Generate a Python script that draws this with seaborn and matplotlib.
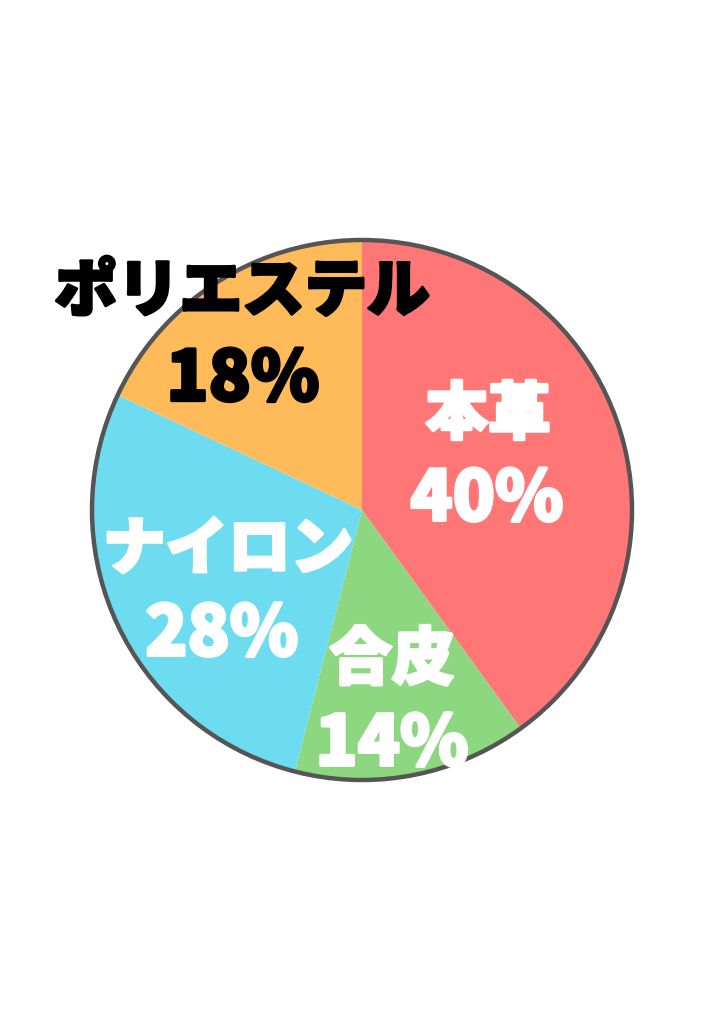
import matplotlib
matplotlib.use('Agg')
import matplotlib.pyplot as plt
import matplotlib.patheffects as pe
import seaborn as sns

# Material share data
labels = ['本革', '合皮', 'ナイロン', 'ポリエステル']
shares = [40, 14, 28, 18]
colors = ['#FF7676', '#8DD780', '#6DDCF0', '#FFBA5A']
text_colors = ['white', 'white', 'white', 'black']

sns.set_theme(style='white')
plt.rcParams['font.family'] = ['Noto Sans CJK JP', 'DejaVu Sans']

fig = plt.figure(figsize=(7.24, 10.24), dpi=100)
ax = fig.add_axes([0, 0, 1, 1])

wedges, _ = ax.pie(shares, colors=colors, startangle=90, counterclock=False,
                   radius=1, center=(0, 0), wedgeprops=dict(linewidth=0))
ax.add_patch(plt.Circle((0, 0), 1, fill=False, edgecolor='#555555', linewidth=3.2))

# label layout (name line, percent line) in pie units
name_pos = [(0.467, 0.352), (0.111, -0.556), (-0.496, -0.148), (-0.444, 0.807)]
pct_pos = [(0.463, 0.037), (0.111, -0.870), (-0.519, -0.463), (-0.441, 0.481)]

for lab, val, tc, npos, ppos in zip(labels, shares, text_colors, name_pos, pct_pos):
    stroke = [pe.withStroke(linewidth=2.2, foreground=tc)]
    ax.text(npos[0], npos[1], lab, color=tc, fontsize=45, fontweight='heavy',
            ha='center', va='center', path_effects=stroke)
    ax.text(ppos[0], ppos[1], f'{val}%', color=tc, fontsize=50, fontweight='heavy',
            ha='center', va='center', path_effects=stroke)

ax.set_xlim(-362 / 270, 362 / 270)
ax.set_ylim(-514 / 270, 510 / 270)
ax.axis('off')

fig.savefig('out.png', dpi=100, facecolor='white')
